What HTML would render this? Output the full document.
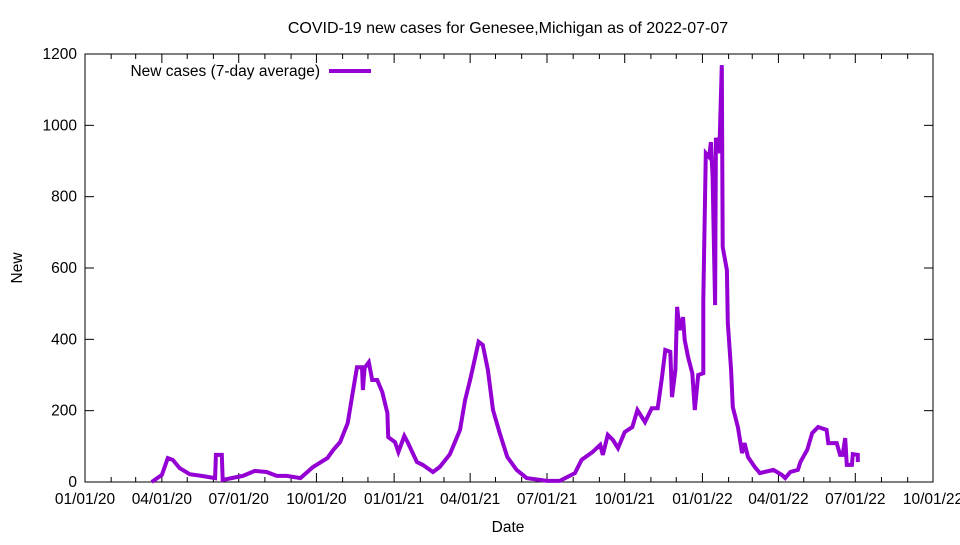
<!DOCTYPE html>
<html><head><meta charset="utf-8"><style>
body{margin:0;background:#fff}
svg text{font-family:"Liberation Sans",sans-serif;font-size:15.5px;fill:#000}
</style></head><body>
<svg id="c" width="960" height="540">
<text x="508" y="33" text-anchor="middle" style="font-size:16px">COVID-19 new cases for Genesee,Michigan as of 2022-07-07</text>
<text x="508" y="532" text-anchor="middle">Date</text>
<text transform="translate(22,268) rotate(-90)" text-anchor="middle">New</text>
<g id="axes"></g>
<g id="plot"></g>
<g>
<text x="320" y="76" text-anchor="end">New cases (7-day average)</text>
<line x1="329" y1="71" x2="371" y2="71" stroke="#9400d3" stroke-width="4"/>
</g>
</svg>
<script>
// days since 2020-01-01
const days=[79,91,98,104,112,124,138,154,155,162,163,180,187,201,215,227,239,255,270,287,294,302,311,317,322,328,329,331,336,340,346,352,358,359,367,371,378,382,393,400,412,420,432,444,450,456,462,466,471,477,483,491,500,511,523,547,562,580,588,601,610,613,619,625,631,639,648,654,663,671,678,683,687,693,695,699,701,704,708,710,714,719,722,726,732,732,735,739,741,743,746,747,751,754,755,760,761,765,767,773,778,781,785,793,799,815,825,829,835,844,847,855,861,868,878,880,890,894,897,900,902,908,909,915,915];
const cases=[0,20,67,62,39,22,17,11,76,76,6,14,17,31,28,17,17,11,42,67,90,112,165,250,322,322,258,320,336,286,286,252,193,126,112,84,129,112,56,48,28,42,78,146,230,286,350,393,384,314,202,137,70,34,11,3,3,25,62,84,104,76,132,118,95,140,154,202,168,207,207,292,370,365,238,314,491,426,462,398,350,305,202,300,305,510,922,911,953,855,496,965,922,1169,659,594,446,314,210,154,81,109,70,42,25,34,20,11,28,34,56,90,137,154,146,109,109,76,76,123,48,48,78,76,56];
const yTicks=[0,200,400,600,800,1000,1200];
const xTickLabels=["01/01/20","04/01/20","07/01/20","10/01/20","01/01/21","04/01/21","07/01/21","10/01/21","01/01/22","04/01/22","07/01/22","10/01/22"];

const L=85,R=933,T=54,B=482,D0=Date.UTC(2020,0,1),DMAX=(Date.UTC(2022,9,1)-D0)/864e5;
const X=d=>L+d/DMAX*(R-L), Y=v=>B-v/1200*(B-T);
const NS="http://www.w3.org/2000/svg";
function mk(p,t,a){const e=document.createElementNS(NS,t);for(const k in a)e.setAttribute(k,a[k]);p.appendChild(e);return e;}
const ax=document.getElementById('axes');
const frame=mk(ax,'rect',{x:L,y:T,width:R-L,height:B-T,fill:'none',stroke:'#000','stroke-width':1});


yTicks.forEach(v=>{
  const y=Y(v);
  mk(ax,'line',{x1:L,y1:y,x2:L+9,y2:y,stroke:'#000'});
  mk(ax,'line',{x1:R,y1:y,x2:R-9,y2:y,stroke:'#000'});
  const t=mk(ax,'text',{x:L-8,y:y+5,'text-anchor':'end'});t.textContent=v;
  
  
});
for(let m=0;m<=33;m++){
  const d=(Date.UTC(2020,m,1)-D0)/864e5,x=X(d),len=m%3==0?9:5;
  mk(ax,'line',{x1:x,y1:B,x2:x,y2:B-len,stroke:'#000'});
  mk(ax,'line',{x1:x,y1:T,x2:x,y2:T+len,stroke:'#000'});
  if(m%3==0){const t=mk(ax,'text',{x:x,y:B+22,'text-anchor':'middle'});t.textContent=xTickLabels[m/3];
    
    }
}
const pl=mk(document.getElementById('plot'),'polyline',{points:days.map((d,i)=>X(d).toFixed(1)+','+Y(cases[i]).toFixed(1)).join(' '),fill:'none',stroke:'#9400d3','stroke-width':4,'stroke-linejoin':'miter'});


</script>
</body></html>
